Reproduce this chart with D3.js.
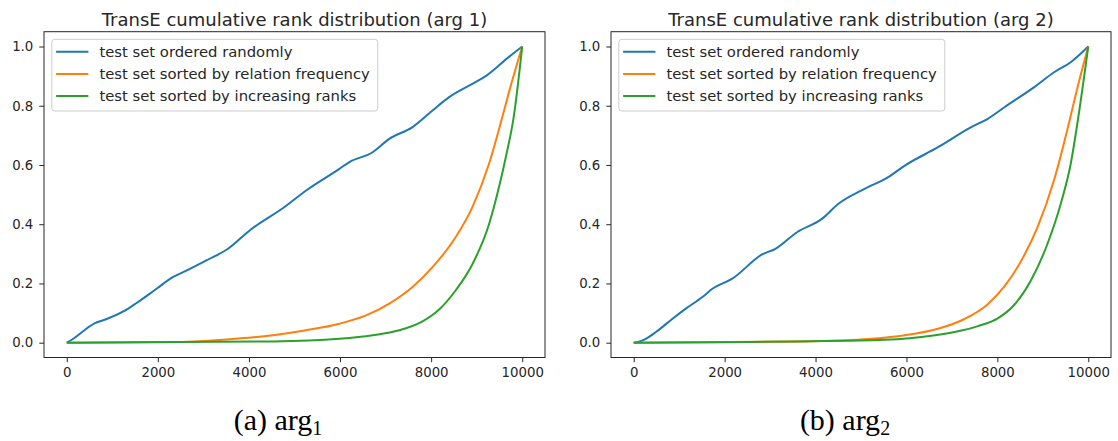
<!DOCTYPE html>
<html>
<head>
<meta charset="utf-8">
<script src="https://cdn.jsdelivr.net/npm/d3@7"></script>
<style>
  body { margin: 0; background: #fff; }
  text { font-family: "DejaVu Sans", sans-serif; fill: #262626; }
</style>
</head>
<body>
<svg id="chart" width="1118" height="441"></svg>
<script>
// values, [rank position, cumulative share]
const arg1Random = [[0, 0], [110, 0.01], [620, 0.066], [876, 0.08], [1350, 0.115], [1533, 0.134],
  [1971, 0.182], [2336, 0.222], [2555, 0.238], [3066, 0.278], [3540, 0.317], [4015, 0.379],
  [4781, 0.458], [5256, 0.514], [5986, 0.587], [6205, 0.61], [6716, 0.643], [7081, 0.688],
  [7592, 0.728], [8030, 0.784], [8395, 0.829], [8906, 0.874], [9198, 0.9], [9709, 0.965], [10000, 1]];
const arg1Relation = [[0, 0], [2336, 0.002], [3431, 0.01], [4526, 0.025], [5256, 0.042], [5986, 0.064],
  [6570, 0.092], [7081, 0.132], [7592, 0.188], [8030, 0.255], [8541, 0.357], [8906, 0.458],
  [9271, 0.604], [9563, 0.762], [9709, 0.846], [10000, 1]];
const arg1Sorted = [[0, 0], [4526, 0.004], [5986, 0.013], [6716, 0.025], [7300, 0.042], [7811, 0.072],
  [8176, 0.112], [8541, 0.177], [8906, 0.265], [9271, 0.4], [9510, 0.538], [9657, 0.639],
  [9803, 0.752], [10000, 1]];

const arg2Random = [[0, 0], [197, 0.008], [489, 0.036], [854, 0.081], [1146, 0.115], [1511, 0.154],
  [1730, 0.182], [2168, 0.216], [2825, 0.298], [3117, 0.317], [3592, 0.373], [4139, 0.418],
  [4504, 0.469], [5088, 0.52], [5599, 0.559], [5964, 0.598], [6694, 0.66], [7424, 0.728],
  [7789, 0.756], [8154, 0.795], [8811, 0.863], [9249, 0.913], [9614, 0.947], [10000, 1]];
const arg2Relation = [[0, 0], [3774, 0.004], [5234, 0.013], [5964, 0.025], [6694, 0.047], [7278, 0.08],
  [7789, 0.13], [8154, 0.19], [8519, 0.275], [8884, 0.39], [9249, 0.55], [9541, 0.72],
  [9760, 0.86], [10000, 1]];
const arg2Sorted = [[0, 0], [5234, 0.008], [6329, 0.019], [7059, 0.036], [7570, 0.056], [8008, 0.082],
  [8373, 0.128], [8738, 0.21], [9103, 0.334], [9395, 0.469], [9614, 0.604], [9760, 0.74], [10000, 1]];

const seriesNames = ['test set ordered randomly', 'test set sorted by relation frequency',
  'test set sorted by increasing ranks'];
const seriesColors = ['#1f77b4', '#ff7f0e', '#2ca02c'];
const xTicks = [0, 2000, 4000, 6000, 8000, 10000];
const yTicks = [0, 0.2, 0.4, 0.6, 0.8, 1.0];
const titles = ['TransE cumulative rank distribution (arg 1)', 'TransE cumulative rank distribution (arg 2)'];
const captions = [['(a) arg', '1'], ['(b) arg', '2']];

const svg = d3.select('#chart');
const plotTop = 31.7;
const plotHeight = 325.8;

const panels = [
  {left: 44, width: 501, series: [arg1Random, arg1Relation, arg1Sorted], title: titles[0],
    caption: captions[0], captionX: 278},
  {left: 611, width: 500, series: [arg2Random, arg2Relation, arg2Sorted], title: titles[1],
    caption: captions[1], captionX: 845}
];

panels.forEach((p) => {
  const g = svg.append('g').attr('transform', `translate(${p.left}, ${plotTop})`);

  const x = d3.scaleLinear().domain([-500, 10500]).range([0, p.width]);
  const y = d3.scaleLinear().domain([-0.05, 1.05]).range([plotHeight, 0]);

  const line = d3.line()
    .x(d => x(d[0]))
    .y(d => y(d[1]))
    .curve(d3.curveMonotoneX);

  p.series.forEach((s, i) => {
    g.append('path')
      .datum(s)
      .attr('fill', 'none')
      .attr('stroke', seriesColors[i])
      .attr('stroke-width', 2)
      .attr('stroke-linejoin', 'round')
      .attr('d', line);
  });

  // frame
  g.append('rect')
    .attr('width', p.width)
    .attr('height', plotHeight)
    .attr('fill', 'none')
    .attr('stroke', '#262626')
    .attr('stroke-width', 1);

  const xAxis = d3.axisBottom(x)
    .tickValues(xTicks)
    .tickFormat(d3.format('d'))
    .tickSize(4.7)
    .tickPadding(5);
  const yAxis = d3.axisLeft(y)
    .tickValues(yTicks)
    .tickFormat(d3.format('.1f'))
    .tickSize(4.7)
    .tickPadding(6);

  const gx = g.append('g').attr('transform', `translate(0, ${plotHeight})`).call(xAxis);
  const gy = g.append('g').call(yAxis);
  [gx, gy].forEach((a) => {
    a.select('.domain').remove();
    a.selectAll('.tick line').attr('stroke', '#262626');
    a.selectAll('.tick text')
      .attr('fill', '#262626')
      .style('font-family', '"DejaVu Sans", sans-serif')
      .style('font-size', '13.3px');
  });

  g.append('text')
    .attr('x', p.width / 2)
    .attr('y', 26 - plotTop)
    .attr('text-anchor', 'middle')
    .style('font-size', '18px')
    .text(p.title);

  // legend
  const lg = g.append('g').attr('transform', 'translate(7.8, 7.6)');
  lg.append('rect')
    .attr('width', 326)
    .attr('height', 71.7)
    .attr('rx', 3)
    .attr('fill', 'white')
    .attr('fill-opacity', 0.8)
    .attr('stroke', '#cccccc');
  seriesNames.forEach((name, i) => {
    const ry = 12.4 + i * 22.2;
    lg.append('line')
      .attr('x1', 4.3).attr('x2', 36.6)
      .attr('y1', ry).attr('y2', ry)
      .attr('stroke', seriesColors[i])
      .attr('stroke-width', 2);
    lg.append('text')
      .attr('x', 47.6)
      .attr('y', ry + 5.2)
      .style('font-size', '14.8px')
      .text(name);
  });

  const cap = svg.append('text')
    .attr('x', p.captionX)
    .attr('y', 430)
    .attr('text-anchor', 'middle')
    .style('font-family', '"Liberation Serif", serif')
    .style('font-size', '30px')
    .style('fill', '#000');
  cap.append('tspan').text(p.caption[0]);
  cap.append('tspan')
    .attr('dy', 5)
    .style('font-size', '20px')
    .text(p.caption[1]);
});
</script>
</body>
</html>
